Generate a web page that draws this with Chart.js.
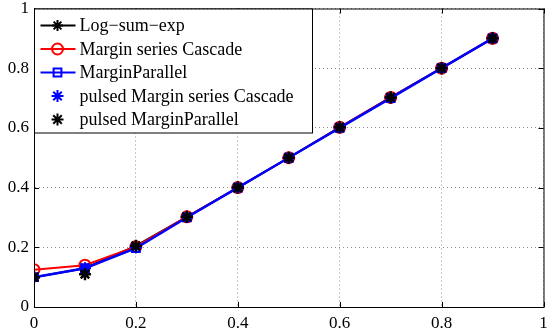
<!DOCTYPE html>
<html>
<head>
<meta charset="utf-8">
<script src="https://cdn.jsdelivr.net/npm/chart.js@4/dist/chart.umd.min.js"></script>
<style>
  html, body { margin: 0; padding: 0; background: #fff; }
  #wrap { width: 552px; height: 333px; }
</style>
</head>
<body>
<div id="wrap"><canvas id="chart"></canvas></div>
<script>
// data
const xValues = [0, 0.1, 0.2, 0.3, 0.4, 0.5, 0.6, 0.7, 0.8, 0.9];
const logSumExp = [0.10, 0.13, 0.205, 0.302, 0.40, 0.50, 0.602, 0.702, 0.80, 0.90];
const marginCascade = [0.125, 0.14, 0.202, 0.302, 0.40, 0.50, 0.602, 0.702, 0.80, 0.90];
const marginParallel = [0.10, 0.13, 0.197, 0.30, 0.40, 0.50, 0.60, 0.70, 0.80, 0.90];
const pulsedCascade = [0.10, 0.13, 0.20, 0.302, 0.40, 0.50, 0.602, 0.702, 0.80, 0.90];
const pulsedParallel = [0.10, 0.11, 0.205, 0.302, 0.40, 0.50, 0.602, 0.702, 0.80, 0.90];
const tickValues = [0, 0.2, 0.4, 0.6, 0.8, 1];

const serif = '"Liberation Serif", "DejaVu Serif", serif';
const pts = arr => arr.map((v, i) => ({ x: xValues[i], y: v }));

// box around the plot area with small inward ticks, like matlab's axes
const boxPlugin = {
  id: 'box',
  afterDatasetsDraw(chart) {
    const { ctx, chartArea: a, scales } = chart;
    ctx.save();
    ctx.strokeStyle = '#000';
    ctx.lineWidth = 1;
    ctx.strokeRect(a.left + 0.5, a.top + 0.5, a.right - a.left, a.bottom - a.top);
    ctx.beginPath();
    tickValues.forEach(v => {
      const px = Math.round(scales.x.getPixelForValue(v)) + 0.5;
      const py = Math.round(scales.y.getPixelForValue(v)) + 0.5;
      ctx.moveTo(px, a.bottom); ctx.lineTo(px, a.bottom - 5);
      ctx.moveTo(px, a.top); ctx.lineTo(px, a.top + 5);
      ctx.moveTo(a.left, py); ctx.lineTo(a.left + 5, py);
      ctx.moveTo(a.right, py); ctx.lineTo(a.right - 5, py);
    });
    ctx.stroke();
    ctx.restore();
  }
};

// legend drawn inside the axes, top left, with line + marker samples
const insideLegend = {
  id: 'insideLegend',
  afterDatasetsDraw(chart) {
    const { ctx, chartArea: a } = chart;
    const x0 = a.left + 0.5, y0 = a.top + 0.5;
    const w = 278, h = 124;
    ctx.save();
    ctx.fillStyle = '#fff';
    ctx.fillRect(x0, y0, w, h);
    ctx.strokeStyle = '#000';
    ctx.lineWidth = 1;
    ctx.strokeRect(x0, y0, w, h);
    ctx.font = '18px ' + serif;
    ctx.textBaseline = 'middle';
    chart.data.datasets.forEach((ds, i) => {
      const cy = y0 + 16.5 + i * 23.5;
      if (ds.showLine !== false) {
        ctx.strokeStyle = ds.borderColor;
        ctx.lineWidth = 2;
        ctx.beginPath();
        ctx.moveTo(x0 + 6, cy);
        ctx.lineTo(x0 + 41, cy);
        ctx.stroke();
      }
      ctx.strokeStyle = ds.pointBorderColor;
      ctx.fillStyle = ds.pointBackgroundColor;
      Chart.helpers.drawPoint(ctx, {
        pointStyle: ds.pointStyle, radius: ds.pointRadius,
        rotation: 0, borderWidth: ds.pointBorderWidth
      }, x0 + 23, cy);
      ctx.fillStyle = '#000';
      ctx.fillText(ds.label, x0 + 45, cy + 1);
    });
    ctx.restore();
  }
};

new Chart(document.getElementById('chart'), {
  type: 'scatter',
  data: {
    datasets: [{
      label: 'Log\u2212sum\u2212exp',
      data: pts(logSumExp),
      order: 5,
      showLine: true,
      borderColor: '#000',
      borderWidth: 2,
      pointStyle: 'star',
      pointRadius: 5.5,
      pointBorderColor: '#000',
      pointBackgroundColor: '#000',
      pointBorderWidth: 2
    }, {
      label: 'Margin series Cascade',
      data: pts(marginCascade),
      order: 4,
      showLine: true,
      borderColor: '#ff0000',
      borderWidth: 2,
      pointStyle: 'circle',
      pointRadius: 5.5,
      pointBorderColor: '#ff0000',
      pointBackgroundColor: 'rgba(0,0,0,0)',
      pointBorderWidth: 2
    }, {
      label: 'MarginParallel',
      data: pts(marginParallel),
      order: 3,
      showLine: true,
      borderColor: '#0000ff',
      borderWidth: 2.5,
      pointStyle: 'rect',
      pointRadius: 5.5,
      pointBorderColor: '#0000ff',
      pointBackgroundColor: 'rgba(0,0,0,0)',
      pointBorderWidth: 2
    }, {
      label: 'pulsed Margin series Cascade',
      data: pts(pulsedCascade),
      order: 2,
      showLine: false,
      pointStyle: 'star',
      pointRadius: 6,
      pointBorderColor: '#0000ff',
      pointBackgroundColor: '#0000ff',
      pointBorderWidth: 2
    }, {
      label: 'pulsed MarginParallel',
      data: pts(pulsedParallel),
      order: 1,
      showLine: false,
      pointStyle: 'star',
      pointRadius: 6,
      pointBorderColor: '#000',
      pointBackgroundColor: '#000',
      pointBorderWidth: 2.5
    }]
  },
  options: {
    responsive: true,
    maintainAspectRatio: false,
    animation: false,
    layout: { padding: { top: 7, right: 4, bottom: 0, left: 0 } },
    plugins: {
      legend: { display: false },
      tooltip: { enabled: false }
    },
    scales: {
      x: {
        type: 'linear',
        min: 0, max: 1,
        afterBuildTicks: s => { s.ticks = tickValues.map(v => ({ value: v })); },
        afterFit: s => { s.height = 26; s.paddingLeft = 0; s.paddingRight = 0; },
        grid: { color: '#909090', drawTicks: false, lineWidth: 1 },
        border: { color: '#000', width: 1, dash: [1, 3] },
        ticks: {
          color: '#000', padding: 6, maxRotation: 0,
          font: { family: serif, size: 17 },
          callback: v => String(v)
        }
      },
      y: {
        type: 'linear',
        min: 0, max: 1,
        afterBuildTicks: s => { s.ticks = tickValues.map(v => ({ value: v })); },
        afterFit: s => { s.width = 34; s.paddingTop = 0; s.paddingBottom = 0; },
        grid: { color: '#909090', drawTicks: false, lineWidth: 1 },
        border: { color: '#000', width: 1, dash: [1, 3] },
        ticks: {
          color: '#000', padding: 5,
          font: { family: serif, size: 17 },
          callback: v => String(v)
        }
      }
    }
  },
  plugins: [boxPlugin, insideLegend]
});
</script>
</body>
</html>
